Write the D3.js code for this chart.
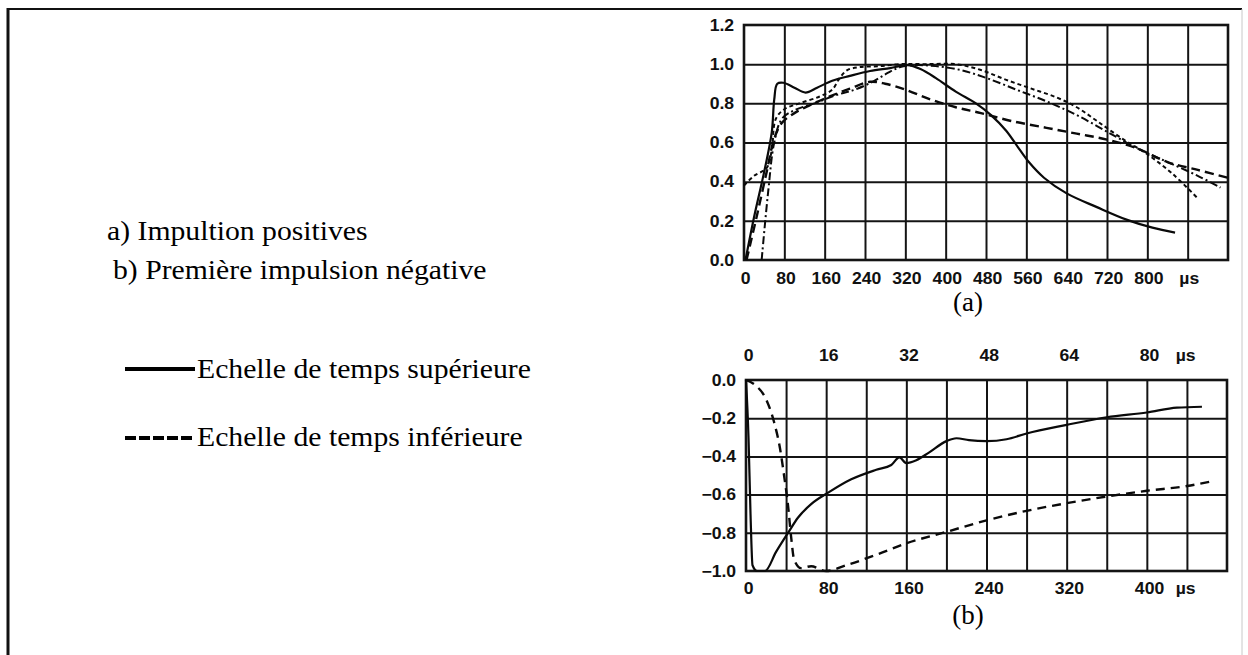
<!DOCTYPE html>
<html><head><meta charset="utf-8">
<script src="https://cdn.jsdelivr.net/npm/d3@7"></script>
<style>
html,body{margin:0;padding:0;background:#fff;}
svg{display:block;}
.tick text{font-family:"Liberation Sans",Arial,sans-serif;font-weight:bold;font-size:16px;fill:#111;}
</style></head>
<body>
<svg id="c" width="1248" height="655"></svg>
<script>
// ---------- data (chart a: positive impulses, normalised current vs time in µs) ----------
const xTicksA = [0, 80, 160, 240, 320, 400, 480, 560, 640, 720, 800];
const yTicksA = [0.0, 0.2, 0.4, 0.6, 0.8, 1.0, 1.2];
const solidA = [[3,0],[20,0.22],[40,0.45],[55,0.65],[60,0.82],[66,0.9],[78,0.905],[100,0.88],[122,0.855],[145,0.88],[175,0.915],[210,0.94],[250,0.965],[290,0.98],[325,0.995],[350,0.975],[380,0.93],[420,0.86],[460,0.8],[490,0.74],[520,0.66],[545,0.57],[565,0.5],[595,0.42],[640,0.34],[700,0.27],[760,0.205],[810,0.165],[855,0.14]];
const longDashA = [[5,0],[25,0.22],[45,0.45],[60,0.62],[75,0.7],[100,0.75],[130,0.79],[170,0.835],[210,0.875],[250,0.91],[280,0.9],[320,0.87],[370,0.82],[420,0.78],[470,0.75],[530,0.71],[600,0.675],[660,0.645],[720,0.615],[780,0.57],[840,0.5],[900,0.46],[960,0.42]];
const shortDashA = [[0,0.38],[20,0.43],[45,0.47],[55,0.56],[63,0.72],[80,0.77],[110,0.8],[150,0.835],[175,0.87],[190,0.93],[205,0.97],[230,0.985],[270,0.99],[310,1.0],[360,1.0],[420,1.0],[470,0.97],[520,0.92],[570,0.875],[620,0.83],[660,0.78],[700,0.71],[750,0.62],[800,0.54],[850,0.44],[898,0.32]];
const dashDotA = [[35,0],[48,0.35],[60,0.6],[75,0.72],[100,0.765],[140,0.8],[180,0.84],[220,0.87],[255,0.91],[285,0.955],[310,0.985],[340,0.995],[380,0.99],[430,0.97],[480,0.93],[540,0.87],[600,0.81],[660,0.74],[720,0.655],[780,0.57],[840,0.5],[900,0.43],[945,0.37]];
// ---------- data (chart b: first negative impulse) ----------
const xTopTicksB = [0, 16, 32, 48, 64, 80];      // upper time scale, µs
const xBotTicksB = [0, 80, 160, 240, 320, 400];  // lower time scale, µs
const yTicksB = [0.0, -0.2, -0.4, -0.6, -0.8, -1.0];
const solidB = [[0,0],[0.5,-0.3],[0.9,-0.7],[1.3,-0.97],[2.2,-1.0],[3.8,-1.0],[6,-0.9],[8.4,-0.8],[10.4,-0.72],[13,-0.65],[16.4,-0.59],[21,-0.52],[26,-0.47],[29,-0.445],[30.6,-0.405],[32,-0.435],[34,-0.42],[36.5,-0.38],[40,-0.32],[42,-0.305],[44.5,-0.315],[48,-0.32],[52,-0.31],[56,-0.28],[64,-0.235],[72,-0.195],[80,-0.17],[86,-0.145],[91,-0.14]];
const dashB = [[0,0],[10,-0.03],[20,-0.1],[28,-0.22],[34,-0.36],[38,-0.5],[42,-0.66],[45,-0.82],[48,-0.94],[55,-0.985],[65,-0.975],[80,-1.0],[100,-0.97],[130,-0.915],[160,-0.855],[200,-0.795],[240,-0.735],[280,-0.685],[320,-0.645],[360,-0.61],[400,-0.58],[440,-0.555],[465,-0.53]];

// ---------- drawing ----------
const svg = d3.select("#c");
const ink = "#141414";
const serif = "'Liberation Serif','Times New Roman',serif";

// page frame
svg.append("line").attr("x1",7).attr("x2",1242).attr("y1",9).attr("y2",9).attr("stroke","#111").attr("stroke-width",2);
svg.append("line").attr("x1",8).attr("x2",8).attr("y1",8).attr("y2",655).attr("stroke","#111").attr("stroke-width",3);
svg.append("line").attr("x1",1242).attr("x2",1242).attr("y1",9).attr("y2",655).attr("stroke","#c8c8c8").attr("stroke-width",1);

function gridPanel(xs, ys, xGrid, yGrid){
  const g = svg.append("g");
  const [x0,x1] = xs.range(), [y1,y0] = ys.range();
  g.append("g").attr("transform",`translate(0,${y1})`)
    .call(d3.axisBottom(xs).tickValues(xGrid).tickSize(-(y1-y0)).tickFormat(""))
    .call(a=>a.select(".domain").remove())
    .selectAll("line").attr("stroke",ink).attr("stroke-width",2);
  g.append("g").attr("transform",`translate(${x0},0)`)
    .call(d3.axisLeft(ys).tickValues(yGrid).tickSize(-(x1-x0)).tickFormat(""))
    .call(a=>a.select(".domain").remove())
    .selectAll("line").attr("stroke",ink).attr("stroke-width",2);
  g.append("rect").attr("x",x0).attr("y",y0).attr("width",x1-x0).attr("height",y1-y0)
    .attr("fill","none").attr("stroke",ink).attr("stroke-width",2.6);
}
function labelAxis(axis, transform, dx, dy){
  const g = svg.append("g").attr("transform",transform).call(axis);
  g.select(".domain").remove();
  g.selectAll(".tick line").remove();
  g.selectAll(".tick text").attr("dx",dx).attr("dy",dy).attr("transform","scale(1.1,1)");
  return g;
}
const fmtY = d => (d<0?"\u2212":"") + Math.abs(d).toFixed(1);

// ----- chart a -----
const xA = d3.scaleLinear().domain([0,960]).range([744,1228]);
const yA = d3.scaleLinear().domain([0,1.2]).range([260,25]);
gridPanel(xA, yA, d3.range(80,960,80), [0.2,0.4,0.6,0.8,1.0]);
labelAxis(d3.axisLeft(yA).tickValues(yTicksA).tickFormat(fmtY).tickSize(0).tickPadding(9),
  `translate(744,0)`, 0, "0.33em");
labelAxis(d3.axisBottom(xA).tickValues(xTicksA.concat([880])).tickFormat(d=>d===880?"\u00b5s":d).tickSize(0).tickPadding(10),
  `translate(0,260)`, 1, "0.85em");

const lineA2 = d3.line().x(d=>xA(d[0])).y(d=>yA(d[1])).curve(d3.curveCatmullRom);
const seriesA = [
  {d:solidA, dash:null, w:2.2},
  {d:longDashA, dash:"9,5", w:2.4},
  {d:shortDashA, dash:"4,3", w:2},
  {d:dashDotA, dash:"8,3,2,3", w:2}
];
seriesA.forEach(s=>{
  svg.append("path").attr("d",lineA2(s.d)).attr("fill","none").attr("stroke","#0a0a0a")
    .attr("stroke-width",s.w).attr("stroke-dasharray",s.dash).attr("stroke-linejoin","round");
});
svg.append("text").attr("x",968).attr("y",311).attr("text-anchor","middle")
  .attr("font-family",serif).attr("font-size",27).text("(a)");

// ----- chart b -----
const xBbot = d3.scaleLinear().domain([0,480]).range([746,1227]);
const xBtop = d3.scaleLinear().domain([0,96]).range([746,1227]);
const yB = d3.scaleLinear().domain([-1,0]).range([571,380]);
gridPanel(xBbot, yB, d3.range(40,480,40), [-0.2,-0.4,-0.6,-0.8]);
labelAxis(d3.axisLeft(yB).tickValues(yTicksB).tickFormat(fmtY).tickSize(0).tickPadding(9),
  `translate(746,0)`, 0, "0.33em");
labelAxis(d3.axisBottom(xBbot).tickValues(xBotTicksB.concat([436])).tickFormat(d=>d===436?"\u00b5s":d).tickSize(0).tickPadding(10),
  `translate(0,571)`, 2, "0.82em");
labelAxis(d3.axisTop(xBtop).tickValues(xTopTicksB.concat([87.2])).tickFormat(d=>d===87.2?"\u00b5s":d).tickSize(0).tickPadding(19),
  `translate(0,380)`, 2, 0);

const lineBs = d3.line().x(d=>xBtop(d[0])).y(d=>yB(d[1])).curve(d3.curveMonotoneX);
const lineBd = d3.line().x(d=>xBbot(d[0])).y(d=>yB(d[1])).curve(d3.curveMonotoneX);
svg.append("path").attr("d",lineBs(solidB)).attr("fill","none").attr("stroke","#0a0a0a").attr("stroke-width",2.2).attr("stroke-linejoin","round");
svg.append("path").attr("d",lineBd(dashB)).attr("fill","none").attr("stroke","#0a0a0a").attr("stroke-width",2.4).attr("stroke-dasharray","9,6");
svg.append("text").attr("x",968).attr("y",624).attr("text-anchor","middle")
  .attr("font-family",serif).attr("font-size",27).text("(b)");

// ----- legend / captions -----
const legTexts = [
  {t:"a) Impultion positives", x:107, y:240},
  {t:"b) Première impulsion négative", x:113, y:279},
  {t:"Echelle de temps supérieure", x:197, y:378},
  {t:"Echelle de temps inférieure", x:197, y:446}
];
legTexts.forEach(o=>{
  svg.append("text").attr("transform",`translate(${o.x},${o.y}) scale(1.1,1)`)
    .attr("font-family",serif).attr("font-size",27).attr("fill","#000").text(o.t);
});
svg.append("line").attr("x1",125).attr("x2",195).attr("y1",369).attr("y2",369).attr("stroke","#000").attr("stroke-width",4);
svg.append("line").attr("x1",125).attr("x2",195).attr("y1",438).attr("y2",438).attr("stroke","#000").attr("stroke-width",4).attr("stroke-dasharray","11,3");
</script>
</body></html>
